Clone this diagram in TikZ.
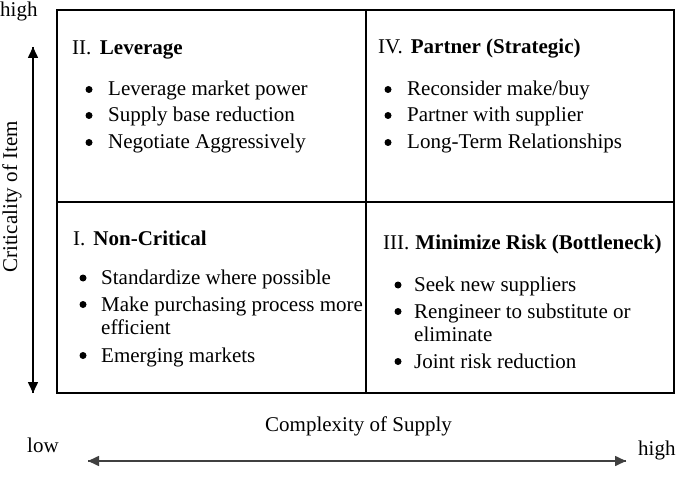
\documentclass[tikz,border=0pt]{standalone}
\usepackage{fontspec}
\setmainfont{Liberation Serif}
\usetikzlibrary{arrows.meta}
\begin{document}
\begin{tikzpicture}[x=1pt,y=-1pt,
  lbl/.style={inner sep=0pt, anchor=base west,
    font=\fontsize{21}{23.5}\selectfont},
  dot/.style={circle, fill=black, inner sep=0pt, minimum size=7pt},
  frame/.style={draw=black, line width=1.8pt},
  axisarrow/.style={line width=1.6pt, -{Triangle[length=11pt,width=10pt]}}]
\useasboundingbox (0,0) rectangle (682,494);

% the four-quadrant matrix
\draw[frame] (57,10) rectangle (674,393);
\draw[frame] (366,10) -- (366,393);
\draw[frame] (57,202) -- (674,202);

% II. Leverage
\node[lbl] (t2) at (72,55) {II.\hspace{8.5pt}\textbf{Leverage}};
\node[dot] (d21) at (89,89.5) {};
\node[lbl] (b21) at (108,96) {Leverage market power};
\node[dot] (d22) at (89,115.5) {};
\node[lbl] (b22) at (108,122) {Supply base reduction};
\node[dot] (d23) at (89,142.5) {};
\node[lbl] (b23) at (108,149) {Negotiate Aggressively};

% IV. Partner
\node[lbl] (t4) at (378,54) {IV.\hspace{8pt}\textbf{Partner (Strategic)}};
\node[dot] (d41) at (388,89.5) {};
\node[lbl] (b41) at (407,96) {Reconsider make/buy};
\node[dot] (d42) at (388,115.5) {};
\node[lbl] (b42) at (407,122) {Partner with supplier};
\node[dot] (d43) at (388,142.5) {};
\node[lbl] (b43) at (407,149) {Long-Term Relationships};

% I. Non-Critical
\node[lbl] (t1) at (73,246) {I.\hspace{8pt}\textbf{Non-Critical}};
\node[dot] (d11) at (83,278) {};
\node[lbl] (b11) at (101,284.5) {Standardize where possible};
\node[dot] (d12) at (83,304.5) {};
\node[lbl] (b12) at (101,311)
  {\begin{tabular}[t]{@{}l@{}}Make purchasing process more\\efficient\end{tabular}};
\node[dot] (d13) at (83,355.5) {};
\node[lbl] (b13) at (101,362) {Emerging markets};

% III. Minimize Risk
\node[lbl] (t3) at (383,250) {III.\hspace{6pt}\textbf{Minimize Risk (Bottleneck)}};
\node[dot] (d31) at (398,285) {};
\node[lbl] (b31) at (414,291.5) {Seek new suppliers};
\node[dot] (d32) at (398,311.5) {};
\node[lbl] (b32) at (414,318)
  {\begin{tabular}[t]{@{}l@{}}Rengineer to substitute or\\eliminate\end{tabular}};
\node[dot] (d33) at (398,361.5) {};
\node[lbl] (b33) at (414,368) {Joint risk reduction};

% axes
\node[lbl] (yhigh) at (0,17) {high};
\node[inner sep=0pt, anchor=base, rotate=90, font=\fontsize{21}{23.5}\selectfont]
  (ylab) at (17,197) {Criticality of Item};
\coordinate (ytop) at (33,47);
\coordinate (ybot) at (33,393);
\draw[axisarrow] (ytop) -- (ybot);
\draw[axisarrow] (ybot) -- (ytop);

\node[lbl] (xlab) at (265,431) {Complexity of Supply};
\node[lbl] (xlow) at (27,452) {low};
\node[lbl] (xhigh) at (638,455) {high};
\coordinate (xl) at (88,461);
\coordinate (xr) at (626,461);
\draw[axisarrow, draw=black!75, fill=black!75] (xl) -- (xr);
\draw[axisarrow, draw=black!75, fill=black!75] (xr) -- (xl);
\end{tikzpicture}
\end{document}
